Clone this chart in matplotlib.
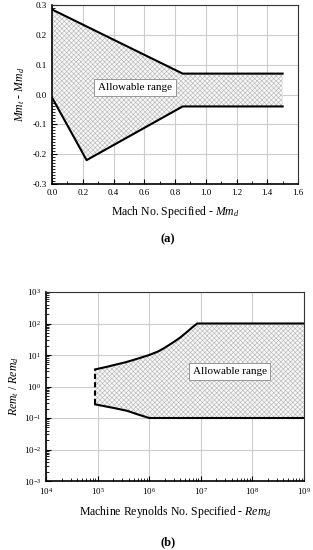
import numpy as np
import matplotlib
matplotlib.use("Agg")
import matplotlib.pyplot as plt
from matplotlib.ticker import MultipleLocator, LogLocator, NullFormatter

plt.rcParams['font.family'] = ['Liberation Serif', 'DejaVu Serif']
plt.rcParams['mathtext.fontset'] = 'custom'
plt.rcParams['mathtext.rm'] = 'Liberation Serif'
plt.rcParams['mathtext.it'] = 'Liberation Serif:italic'
plt.rcParams['axes.unicode_minus'] = False
plt.rcParams['hatch.linewidth'] = 0.4

# (a) Mach number range
mach_up_x = [0.0, 0.85, 1.5]
mach_up_y = [0.285, 0.07, 0.07]
mach_lo_x = [0.0, 0.225, 0.85, 1.5]
mach_lo_y = [-0.01, -0.22, -0.04, -0.04]

# (b) Reynolds number range
re_up_x = [9e4, 1.5e5, 2.3e5, 3.5e5, 5e5, 7e5, 1e6, 1.5e6, 2e6, 3e6, 4e6, 5.4e6, 7e6, 8.5e6, 1e9]
re_up_y = [3.5, 4.2, 5.0, 5.9, 7.0, 8.3, 10.0, 13.0, 17.0, 26.0, 36.0, 54.0, 78.0, 100.0, 100.0]
re_lo_x = [9e4, 2e5, 3.7e5, 6e5, 1e6, 1e9]
re_lo_y = [0.27, 0.21, 0.17, 0.13, 0.1, 0.1]

hatch_col = '#b4b4b4'
grid_col = '#cccccc'

fig = plt.figure(figsize=(3.13, 5.5), dpi=100)
ax1 = fig.add_axes([52/313, 1 - 184/550, 246/313, 179/550])
ax2 = fig.add_axes([46/313, 1 - 481/550, 258/313, 189/550])

# ---- (a)
xs = np.union1d(mach_up_x, mach_lo_x)
yu = np.interp(xs, mach_up_x, mach_up_y)
yl = np.interp(xs, mach_lo_x, mach_lo_y)
ax1.fill_between(xs, yl, yu, facecolor='#f7f7f7', edgecolor=hatch_col,
                 hatch='xxxxxxx', linewidth=0, zorder=1)
ax1.plot(mach_up_x, mach_up_y, color='black', lw=1.5, zorder=3)
ax1.plot(mach_lo_x, mach_lo_y, color='black', lw=1.5, zorder=3)
ax1.set_xlim(0, 1.6)
ax1.set_ylim(-0.3, 0.3)
ax1.xaxis.set_major_locator(MultipleLocator(0.2))
ax1.xaxis.set_minor_locator(MultipleLocator(0.1))
ax1.yaxis.set_major_locator(MultipleLocator(0.1))
ax1.yaxis.set_minor_locator(MultipleLocator(0.01))
ax1.xaxis.set_major_formatter(plt.FormatStrFormatter('%.1f'))
ax1.yaxis.set_major_formatter(plt.FormatStrFormatter('%.1f'))
ax1.text(0.54, 0.023, 'Allowable range', ha='center', va='center', fontsize=8,
         bbox=dict(boxstyle='square,pad=0.35', fc='white', ec='#888888', lw=0.6), zorder=4)
ax1.set_xlabel('Mach No. Specified - $\\mathit{Mm}_{d}$', fontsize=8.5, labelpad=5)
ax1.set_ylabel('$\\mathit{Mm}_{t}$ - $\\mathit{Mm}_{d}$', fontsize=8.5, labelpad=4)
fig.text(168/313, 1 - 239/550, '(a)', ha='center', va='center', fontsize=9, fontweight='bold')

# ---- (b)
ax2.set_xscale('log')
ax2.set_yscale('log')
lx = np.log10(np.union1d(re_up_x, re_lo_x))
yu2 = 10 ** np.interp(lx, np.log10(re_up_x), np.log10(re_up_y))
yl2 = 10 ** np.interp(lx, np.log10(re_lo_x), np.log10(re_lo_y))
ax2.fill_between(10 ** lx, yl2, yu2, facecolor='#f7f7f7', edgecolor=hatch_col,
                 hatch='xxxxxxx', linewidth=0, zorder=1)
ax2.plot(re_up_x, re_up_y, color='black', lw=1.5, zorder=3)
ax2.plot(re_lo_x, re_lo_y, color='black', lw=1.5, zorder=3)
ax2.plot([re_lo_x[0], re_up_x[0]], [re_lo_y[0], re_up_y[0]], color='black',
         lw=1.5, ls=(0, (2.5, 1.5)), zorder=3)
ax2.set_xlim(1e4, 1e9)
ax2.set_ylim(1e-3, 1e3)
ax2.xaxis.set_major_locator(LogLocator(base=10, numticks=10))
ax2.xaxis.set_minor_locator(LogLocator(base=10, subs=np.arange(2, 10), numticks=20))
ax2.xaxis.set_minor_formatter(NullFormatter())
ax2.yaxis.set_major_locator(LogLocator(base=10, numticks=10))
ax2.yaxis.set_minor_locator(LogLocator(base=10, subs=np.arange(2, 10), numticks=20))
ax2.yaxis.set_minor_formatter(NullFormatter())
ax2.text(3.6e7, 3.0, 'Allowable range', ha='center', va='center', fontsize=8,
         bbox=dict(boxstyle='square,pad=0.35', fc='white', ec='#888888', lw=0.6), zorder=4)
ax2.set_xlabel('Machine Reynolds No. Specified - $\\mathit{Rem}_{d}$', fontsize=8.5, labelpad=5)
ax2.set_ylabel('$\\mathit{Rem}_{t}$ / $\\mathit{Rem}_{d}$', fontsize=8.5, labelpad=2)
fig.text(168/313, 1 - 542/550, '(b)', ha='center', va='center', fontsize=9, fontweight='bold')

for ax in (ax1, ax2):
    ax.grid(True, which='major', color=grid_col, lw=0.8, zorder=0)
    ax.set_axisbelow(True)
    ax.tick_params(which='both', direction='in', top=False, right=False, labelsize=6.5)
    ax.tick_params(which='major', length=3.5, width=0.8)
    ax.tick_params(which='minor', length=2, width=0.6)
    for s in ax.spines.values():
        s.set_linewidth(0.8)
        s.set_color('#333333')
    ax.spines['left'].set_color('black')
    ax.spines['bottom'].set_color('black')
    ax.spines['left'].set_linewidth(1.2)
    ax.spines['bottom'].set_linewidth(1.2)

fig.savefig('out.png', dpi=100)
